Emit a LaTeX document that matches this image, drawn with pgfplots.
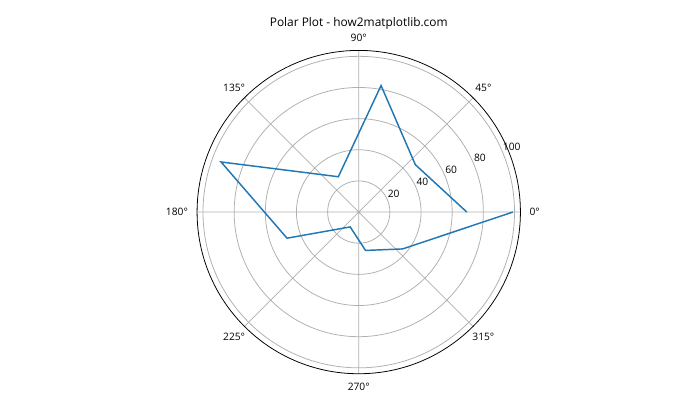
\documentclass[border=0pt]{standalone}
\usepackage{fontspec}
\setmainfont{Open Sans}
\usepackage{pgfplots}
\pgfplotsset{compat=1.18}
\usepgfplotslibrary{polar}
\definecolor{c1}{HTML}{1F77B4}
\definecolor{gridc}{HTML}{B0B0B0}
\newcommand{\tf}{\fontsize{7.4}{8}\selectfont}
\begin{document}
\begin{tikzpicture}
\path[use as bounding box] (0,0) rectangle (504bp,302.4bp);
\node[anchor=base, font=\fontsize{8.6}{10}\selectfont, inner sep=0] at (258.3bp,283.5bp) {Polar Plot - how2matplotlib.com};
\begin{polaraxis}[
  at={(258.3bp,149.7bp)}, anchor=origin,
  scale only axis, width=232.8bp, height=232.8bp,
  ymin=0, ymax=103.8,
  xtick={0,45,...,315},
  ytick={20,40,60,80,100},
  xticklabels={}, yticklabels={},
  grid=major,
  major grid style={draw=gridc, line width=0.56bp},
  major tick length=0pt,
  x axis line style={black, line width=0.56bp},
  y axis line style={draw=none},
  clip=false,
]
\addplot[color=c1, line width=1.05bp, mark=none] coordinates {
 (0,69.4) (40,47.4) (80,82.5) (120,26.2) (160,94.1)
 (200,49.0) (240,11.0) (280,25.0) (320,36.8) (360,98.9)
};
\node[anchor=180, inner sep=0, font=\tf] at (axis cs:0,109.5) {0°};
\node[anchor=225, inner sep=0, font=\tf] at (axis cs:45,109.5) {45°};
\node[anchor=270, inner sep=0, font=\tf] at (axis cs:90,109.5) {90°};
\node[anchor=315, inner sep=0, font=\tf] at (axis cs:135,109.5) {135°};
\node[anchor=0, inner sep=0, font=\tf] at (axis cs:180,109.5) {180°};
\node[anchor=45, inner sep=0, font=\tf] at (axis cs:225,109.5) {225°};
\node[anchor=90, inner sep=0, font=\tf] at (axis cs:270,109.5) {270°};
\node[anchor=135, inner sep=0, font=\tf] at (axis cs:315,109.5) {315°};
\node[anchor=south west, inner sep=0, yshift=1.5bp, font=\tf] at (axis cs:22.5,20) {20};
\node[anchor=south west, inner sep=0, yshift=1.5bp, font=\tf] at (axis cs:22.5,40) {40};
\node[anchor=south west, inner sep=0, yshift=1.5bp, font=\tf] at (axis cs:22.5,60) {60};
\node[anchor=south west, inner sep=0, yshift=1.5bp, font=\tf] at (axis cs:22.5,80) {80};
\node[anchor=south west, inner sep=0, yshift=1.5bp, font=\tf] at (axis cs:22.5,100) {100};
\end{polaraxis}
\end{tikzpicture}
\end{document}
